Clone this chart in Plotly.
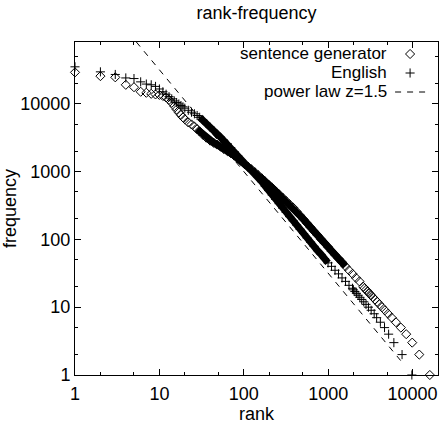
import plotly.graph_objects as go

# ---- data ----
gen_rank = [1, 2, 3, 4, 5, 6, 7, 8, 9, 10, 11, 12, 13, 14, 15, 16, 17, 18, 19, 20,
            22, 24, 26, 28, 30,
            33, 36, 40, 44, 48, 53, 58, 64, 70, 77, 85, 93, 102, 112, 123, 135,
            148, 163, 179, 197, 217, 238, 262, 288, 317, 349, 384,
            422, 464, 511, 562, 618, 680, 748, 823, 905, 996,
            1095, 1205, 1325, 1458, 1604, 1764, 1941, 2135, 2348,
            2600, 2701, 2811, 2932, 3068, 3217, 3387, 3578, 3796, 4048,
            4346, 4699, 5125, 5659, 6345, 7260, 8400, 9900, 12000, 16000]
gen_freq = [29000, 25500, 24500, 19000, 17500, 15000, 14500, 14000, 13700, 13500,
            13000, 12400, 11400, 10300, 9200, 8200, 7400, 6800, 6300, 5900,
            5300, 4950, 4600, 4200, 3900,
            3450, 3150, 2850, 2650, 2500, 2330, 2150, 2000, 1870, 1720, 1550, 1420, 1290, 1180, 1080, 980,
            885, 795, 715, 640, 575, 515, 462, 413, 368, 328, 294,
            258, 226, 197, 172, 150, 131, 115, 100, 88, 77,
            67, 59, 52, 46, 40, 35, 31, 27, 24,
            20, 19, 18, 17, 16, 15, 14, 13, 12, 11,
            10, 9, 8, 7, 6, 5, 4, 3, 2, 1]

eng_rank = [1, 2, 3, 4, 5, 6, 7, 8, 9, 10, 11, 12, 13, 14, 15, 16, 17, 18, 19, 20,
            22, 24, 26, 28, 30,
            33, 36, 40, 44, 48, 53, 58, 64, 70, 77, 85, 93, 102, 112, 123, 135,
            148, 163, 179, 197, 217, 238, 262, 288, 317, 349, 384,
            422, 464, 511, 562, 618, 680, 748, 823, 905, 996,
            1095, 1205, 1325, 1458, 1604, 1764, 1941,
            1990, 2070, 2159, 2260, 2370, 2496, 2640, 2807, 2999,
            3228, 3506, 3750, 4150, 4650, 5200, 6000, 7500, 9800]
eng_freq = [35000, 29500, 27000, 24000, 23500, 21000, 19500, 19000, 18000, 16500,
            15000, 13800, 12700, 11800, 11000, 10400, 9900, 9400, 9000, 8600,
            8000, 7500, 7100, 6700, 6300,
            5700, 5100, 4500, 4000, 3600, 3200, 2850, 2550, 2250, 1950, 1700, 1480, 1300, 1160, 1060, 960,
            825, 708, 610, 524, 451, 390, 336, 290, 251, 216, 188,
            163, 141, 122, 105, 91, 79, 68, 60, 52, 45,
            40, 35, 31, 27, 24, 21, 19,
            18, 17, 16, 15, 14, 13, 12, 11, 10,
            9, 8, 7, 6, 5, 4, 3, 2, 1]

# power law z = 1.5 : f = 1e6 * r^-1.5 (end points of the straight log-log line)
pl_rank = [1, 8000]
pl_freq = [1000000, 1.4]

series_names = ["sentence generator", "English", "power law z=1.5"]
tick_vals = [1, 10, 100, 1000, 10000]
tick_text = ["1", "10", "100", "1000", "10000"]
minor_vals = [2, 5, 20, 50, 200, 500, 2000, 5000, 20000, 50000]

FONT = "Liberation Sans, Arial, Helvetica, sans-serif"
FS = 18

# dense parts of each series, where the markers overlap into a solid band
gen_band = [(r, f) for r, f in zip(gen_rank, gen_freq) if 28 <= r <= 1604]
eng_band = [(r, f) for r, f in zip(eng_rank, eng_freq) if 30 <= r <= 996]

fig = go.Figure()
fig.add_trace(go.Scatter(x=[p[0] for p in gen_band], y=[p[1] for p in gen_band],
                         mode="lines", line=dict(color="black", width=7),
                         showlegend=False, hoverinfo="skip"))
fig.add_trace(go.Scatter(x=[p[0] for p in eng_band], y=[p[1] for p in eng_band],
                         mode="lines", line=dict(color="black", width=7),
                         showlegend=False, hoverinfo="skip"))
fig.add_trace(go.Scatter(x=gen_rank, y=gen_freq, mode="markers", name=" ",
                         cliponaxis=False,
                         marker=dict(symbol="diamond-open", size=7, color="black",
                                     line=dict(width=1, color="black"))))
fig.add_trace(go.Scatter(x=eng_rank, y=eng_freq, mode="markers", name="  ",
                         cliponaxis=False,
                         marker=dict(symbol="cross-thin-open", size=6.5, color="black",
                                     line=dict(width=1, color="black"))))
fig.add_trace(go.Scatter(x=pl_rank, y=pl_freq, mode="lines", name="   ",
                         line=dict(color="black", width=1, dash="6px,6px")))

axis_common = dict(
    type="log", tickvals=tick_vals, ticktext=tick_text,
    ticks="inside", ticklen=6, tickwidth=1, tickcolor="black",
    showline=True, linecolor="black", linewidth=1, mirror="allticks",
    showgrid=False, zeroline=False, ticklabeloverflow="allow",
    tickfont=dict(family=FONT, size=FS, color="black"),
    minor=dict(tickvals=minor_vals, ticks="inside", ticklen=3, tickcolor="black", showgrid=False),
)

fig.update_layout(
    width=448, height=427,
    margin=dict(l=75, r=4, t=42, b=52),
    paper_bgcolor="white", plot_bgcolor="white",
    font=dict(family=FONT, size=FS, color="black"),
    title=dict(text="rank-frequency", x=0.5, xref="paper", y=1 - 13 / 427,
               yanchor="middle", font=dict(family=FONT, size=FS, color="black")),
    xaxis=dict(axis_common, range=[0, 4.301], ticklabelstandoff=2,
               title=dict(text="rank", standoff=0, font=dict(family=FONT, size=FS))),
    yaxis=dict(axis_common, range=[0, 4.91],
               title=dict(text="frequency", standoff=0, font=dict(family=FONT, size=FS))),
    showlegend=True,
    legend=dict(x=0.868, y=1.0075, xanchor="left", yanchor="top",
                bgcolor="rgba(0,0,0,0)", borderwidth=0,
                font=dict(family=FONT, size=10), tracegroupgap=0,
                itemwidth=30, itemsizing="trace"),
)

legend_y = [0.9667, 0.9096, 0.8526]
for name, yy in zip(series_names, legend_y):
    fig.add_annotation(text=name, xref="paper", yref="paper", x=0.866, y=yy,
                       xanchor="right", yanchor="middle", showarrow=False,
                       font=dict(family=FONT, size=17, color="black"))

# place the figure at the page's top-left corner (remove the default body margin)
fig.write_html("out.html",
               config={"displayModeBar": False},
               post_script="document.body.style.margin='0';document.body.style.overflow='hidden';")
